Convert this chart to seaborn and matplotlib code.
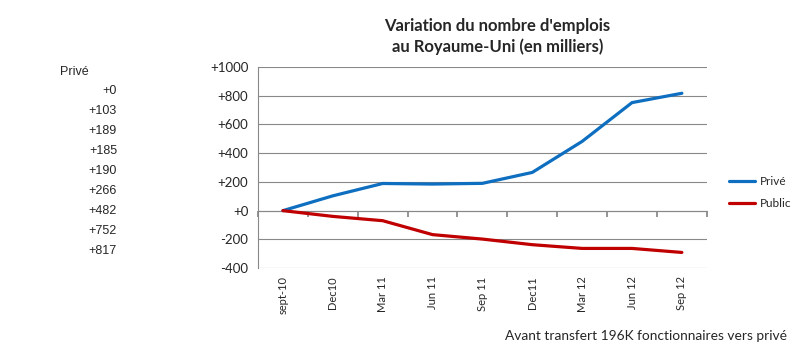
import matplotlib
matplotlib.use("Agg")
import matplotlib.pyplot as plt
import seaborn as sns
import pandas as pd

periods = ["sept-10", "Dec10", "Mar 11", "Jun 11", "Sep 11", "Dec11", "Mar 12", "Jun 12", "Sep 12"]
prive = [0, 103, 189, 185, 190, 266, 482, 752, 817]
public = [0, -40, -70, -167, -198, -237, -263, -263, -291]
yticks = [1000, 800, 600, 400, 200, 0, -200, -400]
ytick_labels = ["+1000", "+800", "+600", "+400", "+200", "+0", "-200", "-400"]
prive_labels = ["+0", "+103", "+189", "+185", "+190", "+266", "+482", "+752", "+817"]

sns.set_theme(style="white")
plt.rcParams["font.family"] = ["Lato", "DejaVu Sans"]

df = pd.DataFrame({
    "x": list(range(len(periods))) * 2,
    "val": prive + public,
    "serie": ["Privé"] * len(periods) + ["Public"] * len(periods),
})

fig = plt.figure(figsize=(8, 3.5), dpi=100)
ax = fig.add_axes([0.3225, 0.234, 0.561, 0.5746])

ax.set_ylim(-400, 1000)
ax.set_xlim(-0.5, len(periods) - 0.5)
ax.set_yticks(yticks)
ax.set_yticklabels(ytick_labels)
for y in yticks:
    ax.axhline(y, color="#888888", lw=0.8, zorder=0)

sns.lineplot(data=df, x="x", y="val", hue="serie",
             palette={"Privé": "#0E6EC0", "Public": "#C00000"},
             linewidth=2.3, ax=ax, legend=False, zorder=3)

ax.set_xticks(range(len(periods)))
ax.set_xticklabels(periods, rotation=90, fontsize=8)
ax.tick_params(axis="x", length=0, pad=6)
ax.tick_params(axis="y", length=4, direction="out", color="#888888", labelsize=9.5, pad=3)
ax.set_xlabel("")
ax.set_ylabel("")
for s in ["top", "right", "bottom"]:
    ax.spines[s].set_visible(False)
ax.spines["left"].set_color("#888888")
ax.spines["left"].set_linewidth(0.8)

# category axis crossing at zero
sec = ax.secondary_xaxis(400 / 1400)
sec.set_xticks([i - 0.5 for i in range(len(periods) + 1)])
sec.set_xticklabels([""] * (len(periods) + 1))
sec.tick_params(length=4, direction="out", color="#888888")
sec.spines["bottom"].set_color("#888888")
sec.spines["bottom"].set_linewidth(0.8)

fig.text(0.622, 0.95, "Variation du nombre d'emplois\nau Royaume-Uni (en milliers)",
         ha="center", va="top", fontsize=12, fontweight="bold", linespacing=1.4)

# side list
fig.text(60 / 800, 1 - 72 / 350, "Privé", ha="left", va="center", fontsize=9,
         family=["Liberation Sans", "DejaVu Sans"])
for i, lab in enumerate(prive_labels):
    fig.text(117 / 800, 1 - (91 + 20 * i) / 350, lab, ha="right", va="center", fontsize=9,
             family=["Liberation Sans", "DejaVu Sans"])

# legend
from matplotlib.lines import Line2D
handles = [Line2D([], [], color="#0E6EC0", lw=2.3), Line2D([], [], color="#C00000", lw=2.3)]
fig.legend(handles, ["Privé", "Public"], loc="center left", bbox_to_anchor=(0.898, 0.45),
           frameon=False, fontsize=8.5, handlelength=2.2, labelspacing=0.9, handletextpad=0.4)

fig.text(787 / 800, 1 - 336 / 350, "Avant transfert 196K fonctionnaires vers privé",
         ha="right", va="center", fontsize=9.9)

fig.savefig("out.png", dpi=100)
